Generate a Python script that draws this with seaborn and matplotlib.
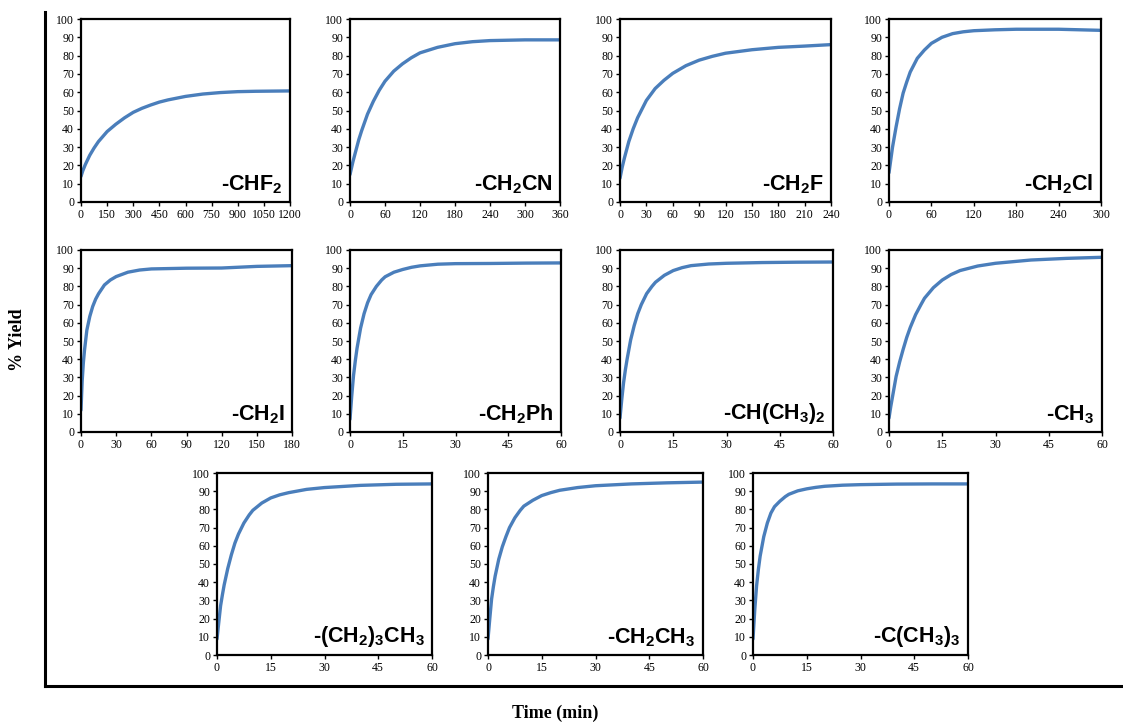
import numpy as np
import pandas as pd
import seaborn as sns
import matplotlib.pyplot as plt
from matplotlib.ticker import MultipleLocator

# yield curves (time in min, % yield)
labels = [r'-CHF$_2$', r'-CH$_2$CN', r'-CH$_2$F', r'-CH$_2$Cl',
          r'-CH$_2$I', r'-CH$_2$Ph', r'-CH(CH$_3$)$_2$', r'-CH$_3$',
          r'-(CH$_2$)$_3$CH$_3$', r'-CH$_2$CH$_3$', r'-C(CH$_3$)$_3$']

t_chf2 = [0, 10, 25, 50, 75, 100, 150, 200, 250, 300, 350, 400, 450, 500, 600, 700, 800, 900, 1000, 1100, 1200]
y_chf2 = [14, 17, 20.5, 25.5, 29.5, 33, 38.5, 42.5, 46, 49, 51.2, 53, 54.6, 55.8, 57.7, 59, 59.8, 60.3, 60.5, 60.6, 60.7]

t_ch2cn = [0, 5, 10, 15, 20, 30, 40, 50, 60, 75, 90, 105, 120, 150, 180, 210, 240, 300, 360]
y_ch2cn = [15, 22, 28, 34, 39, 48, 55, 61, 66, 71.5, 75.5, 78.8, 81.5, 84.5, 86.5, 87.6, 88.2, 88.6, 88.6]

t_ch2f = [0, 2.5, 5, 10, 15, 20, 30, 40, 50, 60, 75, 90, 105, 120, 150, 180, 210, 240]
y_ch2f = [13, 19, 24, 33, 40, 46, 55.5, 62, 66.5, 70.3, 74.5, 77.5, 79.6, 81.3, 83.2, 84.5, 85.2, 86]

t_ch2cl = [0, 5, 10, 15, 20, 25, 30, 40, 50, 60, 75, 90, 105, 120, 150, 180, 240, 300]
y_ch2cl = [16, 30, 41, 51, 59.5, 65.5, 71, 78.5, 83, 86.7, 90, 92, 93, 93.6, 94.1, 94.4, 94.4, 93.8]

t_ch2i = [0, 1, 2, 3, 5, 7.5, 10, 12.5, 15, 20, 25, 30, 40, 50, 60, 90, 120, 150, 180]
y_ch2i = [12, 28, 38, 45, 56, 63.5, 69, 73, 76, 80.8, 83.5, 85.4, 87.8, 89, 89.6, 90, 90.1, 91, 91.4]

t_min60 = [0, 0.5, 1, 1.5, 2, 3, 4, 5, 6, 7.5, 9, 10, 12.5, 15, 17.5, 20, 25, 30, 40, 50, 60]
y_ch2ph = [7, 20, 31, 39, 46, 57, 65, 71, 75.5, 80, 83.5, 85.3, 87.8, 89.3, 90.5, 91.3, 92.2, 92.5, 92.6, 92.8, 92.9]
y_ipr = [7.7, 18, 27, 34, 40, 50.6, 58.5, 65, 70, 76, 80, 82.3, 86.1, 88.7, 90.3, 91.4, 92.3, 92.7, 93.1, 93.3, 93.4]
y_ch3 = [7.7, 14, 19.5, 25, 30.5, 38.5, 45.5, 52, 57.5, 64.5, 70, 73.5, 79.3, 83.5, 86.5, 88.7, 91.2, 92.7, 94.5, 95.4, 96]
y_nbu = [8.8, 18, 27, 33, 38.5, 47.5, 55, 61.5, 66.5, 72.5, 77, 79.5, 83.5, 86.3, 88, 89.2, 91, 92, 93.2, 93.8, 94]
y_et = [8.8, 20, 30.7, 37.5, 43.4, 52.6, 59.5, 65, 70, 75.4, 79.5, 81.8, 85, 87.6, 89.2, 90.5, 92, 93, 94, 94.6, 95]
y_tbu = [8.8, 25, 38, 47, 54.4, 65, 72.5, 78, 81.5, 84.5, 87, 88.3, 90.2, 91.3, 92.1, 92.7, 93.3, 93.6, 93.9, 94, 94]

times = [t_chf2, t_ch2cn, t_ch2f, t_ch2cl, t_ch2i, t_min60, t_min60, t_min60,
         t_min60, t_min60, t_min60]
yields = [y_chf2, y_ch2cn, y_ch2f, y_ch2cl, y_ch2i, y_ch2ph, y_ipr, y_ch3,
          y_nbu, y_et, y_tbu]
xmax = [1200, 360, 240, 300, 180, 60, 60, 60, 60, 60, 60]
xstep = [150, 60, 30, 60, 30, 15, 15, 15, 15, 15, 15]

sns.set_style("white")
plt.rcParams['font.family'] = ['Liberation Serif', 'DejaVu Serif']
plt.rcParams['text.color'] = 'black'
plt.rcParams['mathtext.fontset'] = 'custom'
plt.rcParams['mathtext.rm'] = 'Liberation Sans:bold'
plt.rcParams['mathtext.it'] = 'Liberation Sans:bold'
plt.rcParams['mathtext.bf'] = 'Liberation Sans:bold'

W, H = 1123, 724
fig = plt.figure(figsize=(W / 100, H / 100), dpi=100)

# outer frame with only left and bottom lines
bg = fig.add_axes([45 / W, (H - 686) / H, 1 - 45 / W, (686 - 12) / H])
bg.set_xticks([])
bg.set_yticks([])
bg.patch.set_alpha(0)
for s in ['top', 'right']:
    bg.spines[s].set_visible(False)
for s in ['left', 'bottom']:
    bg.spines[s].set_linewidth(2.2)
    bg.spines[s].set_color('black')

# panel boxes in pixels (left, top, right, bottom)
boxes = [(81, 19, 290, 202), (350, 19, 560, 202), (620, 19, 831, 202), (889, 19, 1101, 202),
         (81, 250, 292, 432), (350, 250, 561, 432), (620, 250, 833, 432), (889, 250, 1102, 432),
         (217, 473, 432, 655), (488, 473, 703, 655), (753, 473, 968, 655)]

for i, (l, t, r, b) in enumerate(boxes):
    ax = fig.add_axes([l / W, (H - b) / H, (r - l) / W, (b - t) / H])
    df = pd.DataFrame({'time': times[i], 'yield': yields[i]})
    sns.lineplot(data=df, x='time', y='yield', ax=ax, color='#4A7EBB', linewidth=2.4)
    ax.set_xlim(0, xmax[i])
    ax.set_ylim(0, 100)
    ax.xaxis.set_major_locator(MultipleLocator(xstep[i]))
    ax.yaxis.set_major_locator(MultipleLocator(10))
    ax.set_xlabel('')
    ax.set_ylabel('')
    ax.tick_params(axis='both', labelsize=8.5, length=3, width=1, direction='out',
                   pad=2, colors='black', left=True, bottom=True)
    for s in ax.spines.values():
        s.set_linewidth(1.6)
        s.set_color('black')
    ax.text(0.965, 0.035, labels[i], transform=ax.transAxes, ha='right', va='bottom',
            fontsize=15.5, fontweight='bold', family='Liberation Sans', color='black')

fig.text(18 / W, 1 - 340 / H, '% Yield', rotation=90, ha='center', va='center',
         fontsize=13, fontweight='bold', color='black')
fig.text(555 / W, 1 - 713 / H, 'Time (min)', ha='center', va='center',
         fontsize=13, fontweight='bold', color='black')

fig.savefig('out.png', dpi=100)
